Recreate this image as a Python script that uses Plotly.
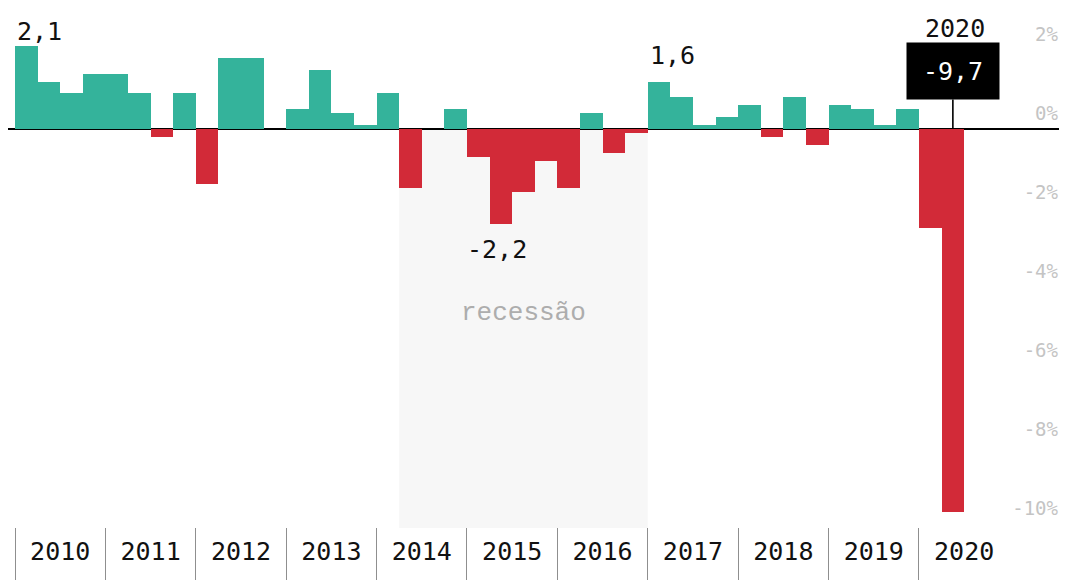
import plotly.graph_objects as go

# ---------------- data ----------------
years = ["2010", "2011", "2012", "2013", "2014", "2015",
         "2016", "2017", "2018", "2019", "2020"]
quarters_per_year = 4
# quarterly GDP change (%), 2010 T1 .. 2020 T2
gdp = [2.1, 1.2, 0.9, 1.4,
       1.4, 0.9, -0.2, 0.9,
       -1.4, 1.8, 1.8, 0.0,
       0.5, 1.5, 0.4, 0.1,
       0.9, -1.5, 0.0, 0.5,
       -0.7, -2.4, -1.6, -0.8,
       -1.5, 0.4, -0.6, -0.1,
       1.2, 0.8, 0.1, 0.3,
       0.6, -0.2, 0.8, -0.4,
       0.6, 0.5, 0.1, 0.5,
       -2.5, -9.7]
quarter_labels = [f"{y} T{q}" for y in years for q in range(1, 5)][:len(gdp)]
ytick_vals = [2, 0, -2, -4, -6, -8, -10]
ytick_text = ["2%", "0%", "-2%", "-4%", "-6%", "-8%", "-10%"]
recession = ("2014 T2", "2016 T4")
callouts = [  # (quarter, text)
    ("2010 T1", "2,1"),
    ("2015 T2", "-2,2"),
    ("2017 T1", "1,6"),
]
highlight = ("2020 T2", "-9,7", "2020")

# ---------------- style ----------------
GREEN = "#34b39b"
RED = "#d22a38"
MONO = "DejaVu Sans Mono"
idx = list(range(len(gdp)))
colors = [GREEN if v >= 0 else RED for v in gdp]

W, H = 1059, 572
X_RANGE = [-0.81, 46.05]
Y_RANGE = [-10.10, 3.063]
MAIN_BOTTOM = 52 / H

fig = go.Figure()

fig.add_trace(go.Bar(
    x=idx, y=gdp, marker=dict(color=colors, line=dict(width=0)),
    width=1.0, customdata=quarter_labels, hovertemplate="%{customdata}: %{y}<extra></extra>",
    showlegend=False, xaxis="x", yaxis="y",
))

# year labels in bottom strip
year_centers = [quarters_per_year * k + 1.5 for k in range(len(years))]
fig.add_trace(go.Scatter(
    x=year_centers, y=[0] * len(years), text=years, mode="text",
    textfont=dict(family=MONO, size=25, color="#111111"),
    textposition="middle center", showlegend=False, hoverinfo="skip",
    xaxis="x2", yaxis="y2",
))

year_bounds = [quarters_per_year * k - 0.5 for k in range(len(years))]

# recession shading
r0 = quarter_labels.index(recession[0]) - 0.5
r1 = quarter_labels.index(recession[1]) + 0.5
fig.add_shape(type="rect", xref="x", yref="y", x0=r0, x1=r1, y0=0, y1=Y_RANGE[0],
              fillcolor="#f7f7f7", line=dict(width=0), layer="below")
fig.add_annotation(x=(r0 + r1) / 2, y=-4.66, xref="x", yref="y", text="recessão",
                   showarrow=False, font=dict(family="Liberation Mono", size=26, color="#adadad"))

# value callouts
shifts = {"2,1": dict(xanchor="left", xs=-0.5, ys=15, xp=0),
          "-2,2": dict(xanchor="center", xs=0.0, ys=-26, xp=-4),
          "1,6": dict(xanchor="left", xs=-0.5, ys=26, xp=0)}
for q, txt in callouts:
    i = quarter_labels.index(q)
    s = shifts[txt]
    fig.add_annotation(x=i + s["xs"], y=gdp[i], xref="x", yref="y", text=txt,
                       showarrow=False, xanchor=s["xanchor"], yanchor="middle",
                       yshift=s["ys"], xshift=s["xp"],
                       font=dict(family=MONO, size=25, color="#111111"))

# highlighted last quarter
hi = quarter_labels.index(highlight[0])
fig.add_annotation(x=hi, y=0, xref="x", yref="y", text=highlight[1],
                   showarrow=True, arrowhead=0, arrowwidth=1.6, arrowcolor="#000000",
                   ax=0, ay=-58, width=88, height=52, bgcolor="#000000", borderpad=2,
                   font=dict(family=MONO, size=25, color="#ffffff"))
fig.add_annotation(x=hi, y=0, xref="x", yref="y", text=highlight[2],
                   showarrow=False, yshift=101, xshift=2,
                   font=dict(family=MONO, size=25, color="#111111"))

fig.update_layout(
    width=W, height=H,
    margin=dict(l=0, r=0, t=0, b=0, autoexpand=False),
    paper_bgcolor="#ffffff", plot_bgcolor="rgba(0,0,0,0)",
    bargap=0,
    xaxis=dict(domain=[0, 1], range=X_RANGE, showgrid=False, zeroline=False,
               showticklabels=False, ticks="", anchor="y", automargin=False),
    yaxis=dict(domain=[MAIN_BOTTOM, 1], range=Y_RANGE, side="right", anchor="x",
               tickvals=ytick_vals, ticktext=ytick_text,
               ticklabelposition="inside", ticklabelshift=-16, ticklabelstandoff=6,
               tickfont=dict(family=MONO, size=19, color="#c4c4c4"),
               showgrid=False, zeroline=True, zerolinecolor="#000000", zerolinewidth=1.5,
               showline=False, ticks="", automargin=False),
    xaxis2=dict(domain=[0, 1], range=X_RANGE, matches="x", anchor="y2",
                tickvals=year_bounds, showticklabels=False, ticks="",
                showgrid=True, gridcolor="#8f8f8f", gridwidth=1, zeroline=False,
                automargin=False),
    yaxis2=dict(domain=[0, MAIN_BOTTOM], range=[-1, 1], showgrid=False,
                zeroline=False, showticklabels=False, ticks="", anchor="x2",
                automargin=False),
)

fig.write_html("out.html")
